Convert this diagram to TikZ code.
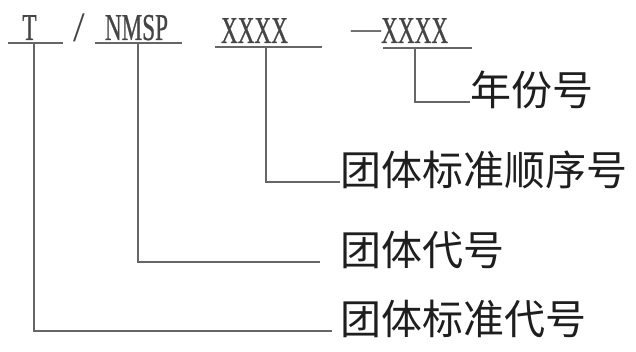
\documentclass[tikz,border=0pt]{standalone}
\usepackage{fontspec}
\setmainfont{Liberation Serif}
\newfontfamily\codefont[FakeStretch=0.61, FakeBold=0.6]{Liberation Serif}
\newfontfamily\cjk{Noto Sans CJK SC}
\usetikzlibrary{positioning}
\definecolor{inkgray}{HTML}{454545}
\definecolor{linegray}{HTML}{666666}
\definecolor{labelink}{HTML}{1E1E1E}

\begin{document}
\begin{tikzpicture}[x=1pt, y=-1pt]
\tikzstyle{code}=[inner sep=0, text=inkgray, font=\codefont\fontsize{38}{38}\selectfont, anchor=base]
\tikzstyle{uline}=[inner sep=0, minimum height=0, append after command={(\tikzlastnode.west) edge[draw=linegray, line width=1.3pt] (\tikzlastnode.east)}]
\tikzstyle{lab}=[inner xsep=0, inner ysep=0, text=labelink, anchor=west, text height=0.88em, text depth=0.12em, font=\cjk\fontsize{41}{41}\selectfont]
\tikzstyle{lead}=[draw=linegray, line width=1.1pt]
\useasboundingbox (0,0) rectangle (636,352);
% code line
\node[code] (t) at (29.5, 40) {T};
\node[code, font=\rmfamily\fontsize{42}{42}\selectfont] (slash) at (79, 42) {/};
\node[code] (nmsp) at (136.5, 40) {NMSP};
\node[code] (seq) at (254.5, 43) {XXXX};
\node[code, anchor=base west] (year) at (351, 43) {{\rmfamily\fontsize{30}{30}\selectfont\raisebox{4pt}{—}}XXXX};
% underlines
\node[uline, minimum width=55pt] (tu) at (35.5, 43) {};
\node[uline, minimum width=87pt] (nu) at (138.5, 43) {};
\node[uline, minimum width=107pt] (su) at (268.5, 47) {};
\node[uline, minimum width=89pt] (yu) at (427.5, 48) {};
% labels
\node[lab] (l1) at (470, 102) {年份号};
\node[lab] (l2) at (340, 182) {团体标准顺序号};
\node[lab] (l3) at (340, 262) {团体代号};
\node[lab] (l4) at (340, 331) {团体标准代号};
% leaders
\draw[lead] ([xshift=-12.5pt]yu.center) |- (l1.west);
\draw[lead] ([xshift=-2.5pt]su.center) |- (l2.west);
\draw[lead, shorten >=20pt] ([xshift=-0.5pt]nu.center) |- (l3.west);
\draw[lead, shorten >=8pt] ([xshift=-1.5pt]tu.center) |- (l4.west);
\end{tikzpicture}
\end{document}
